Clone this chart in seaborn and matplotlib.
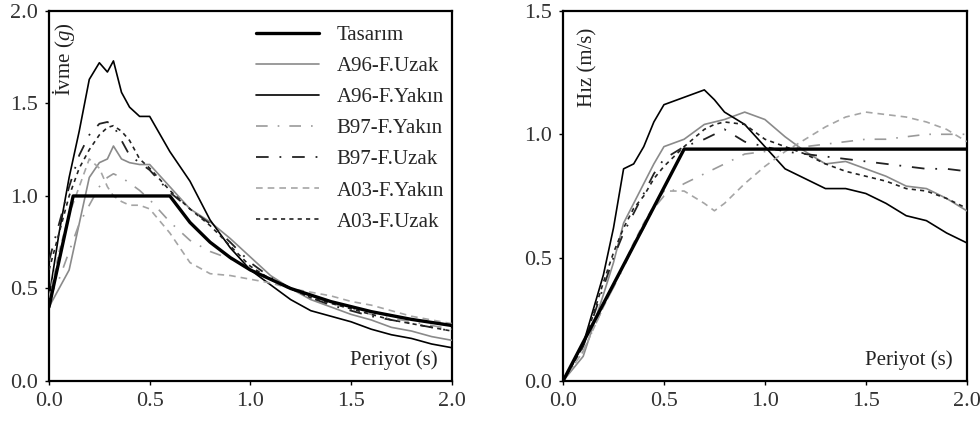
import matplotlib
matplotlib.use("Agg")
import matplotlib.pyplot as plt
import seaborn as sns
import pandas as pd

# ---------------- data ----------------
labels = ["Tasarım", "A96-F.Uzak", "A96-F.Yakın", "B97-F.Yakın",
          "B97-F.Uzak", "A03-F.Yakın", "A03-F.Uzak"]

# Acceleration spectra (left)
T_des_a = [0.0, 0.12, 0.6, 0.7, 0.8, 0.9, 1.0, 1.2, 1.4, 1.6, 1.8, 2.0]
A_des = [0.40, 1.0, 1.0, 0.857, 0.75, 0.667, 0.60, 0.50, 0.429, 0.375, 0.333, 0.30]

T_a = [0.0, 0.05, 0.1, 0.15, 0.2, 0.25, 0.29, 0.32, 0.36, 0.4, 0.45, 0.5, 0.6,
       0.7, 0.8, 0.9, 1.0, 1.1, 1.2, 1.3, 1.4, 1.5, 1.6, 1.7, 1.8, 1.9, 2.0]
A_A96_uzak = [0.40, 0.50, 0.60, 0.85, 1.10, 1.18, 1.20, 1.27, 1.20, 1.18, 1.17, 1.17, 1.05,
              0.93, 0.86, 0.77, 0.67, 0.57, 0.50, 0.44, 0.40, 0.36, 0.33, 0.29, 0.27, 0.24, 0.22]
A_A96_yakin = [0.45, 0.80, 1.10, 1.35, 1.63, 1.72, 1.67, 1.73, 1.56, 1.48, 1.43, 1.43, 1.24,
               1.08, 0.87, 0.72, 0.60, 0.52, 0.44, 0.38, 0.35, 0.32, 0.28, 0.25, 0.23, 0.20, 0.18]
A_B97_yakin = [0.45, 0.55, 0.70, 0.85, 0.95, 1.05, 1.10, 1.12, 1.10, 1.07, 1.03, 0.98, 0.86,
               0.76, 0.70, 0.66, 0.60, 0.55, 0.50, 0.46, 0.42, 0.39, 0.36, 0.34, 0.32, 0.30, 0.28]
A_B97_uzak = [0.65, 0.85, 1.05, 1.22, 1.33, 1.39, 1.40, 1.38, 1.30, 1.22, 1.18, 1.14, 1.02,
              0.93, 0.85, 0.75, 0.64, 0.56, 0.50, 0.45, 0.41, 0.38, 0.35, 0.33, 0.31, 0.29, 0.27]
A_A03_yakin = [0.45, 0.70, 0.90, 1.05, 1.20, 1.15, 1.05, 1.00, 0.97, 0.95, 0.95, 0.93, 0.80,
               0.64, 0.58, 0.57, 0.55, 0.53, 0.50, 0.48, 0.46, 0.43, 0.41, 0.38, 0.35, 0.33, 0.31]
A_A03_uzak = [0.60, 0.80, 1.00, 1.15, 1.25, 1.33, 1.37, 1.38, 1.35, 1.30, 1.20, 1.15, 1.03,
              0.93, 0.84, 0.73, 0.62, 0.55, 0.50, 0.45, 0.42, 0.39, 0.36, 0.33, 0.31, 0.29, 0.27]

# Velocity spectra (right)
T_des_v = [0.0, 0.6, 2.0]
V_des = [0.0, 0.94, 0.94]

T_v = [0.0, 0.1, 0.2, 0.25, 0.3, 0.35, 0.4, 0.45, 0.5, 0.6, 0.7, 0.75, 0.8,
       0.9, 1.0, 1.1, 1.2, 1.3, 1.4, 1.5, 1.6, 1.7, 1.8, 1.9, 2.0]
V_A96_yakin = [0.0, 0.15, 0.43, 0.62, 0.86, 0.88, 0.95, 1.05, 1.12, 1.15, 1.18, 1.14, 1.09,
               1.04, 0.95, 0.86, 0.82, 0.78, 0.78, 0.76, 0.72, 0.67, 0.65, 0.60, 0.56]
V_A96_uzak = [0.0, 0.10, 0.35, 0.48, 0.64, 0.72, 0.80, 0.88, 0.95, 0.98, 1.04, 1.05, 1.06,
              1.09, 1.06, 0.99, 0.93, 0.88, 0.89, 0.86, 0.83, 0.79, 0.78, 0.74, 0.69]
V_B97_yakin = [0.0, 0.12, 0.30, 0.38, 0.46, 0.55, 0.62, 0.70, 0.75, 0.80, 0.84, 0.86, 0.88,
               0.92, 0.93, 0.94, 0.95, 0.96, 0.97, 0.98, 0.98, 0.99, 1.00, 1.00, 1.00]
V_B97_uzak = [0.0, 0.14, 0.38, 0.50, 0.60, 0.68, 0.76, 0.84, 0.90, 0.95, 0.98, 1.00, 1.02,
              0.97, 0.95, 0.93, 0.92, 0.91, 0.90, 0.89, 0.88, 0.87, 0.86, 0.86, 0.85]
V_A03_yakin = [0.0, 0.12, 0.30, 0.38, 0.47, 0.56, 0.64, 0.71, 0.77, 0.77, 0.72, 0.69, 0.72,
               0.80, 0.87, 0.93, 0.98, 1.03, 1.07, 1.09, 1.08, 1.07, 1.05, 1.02, 0.97]
V_A03_uzak = [0.0, 0.14, 0.40, 0.52, 0.62, 0.70, 0.75, 0.82, 0.87, 0.95, 1.02, 1.04, 1.05,
              1.04, 0.98, 0.95, 0.92, 0.88, 0.85, 0.83, 0.81, 0.78, 0.77, 0.74, 0.70]

xticks = [0.0, 0.5, 1.0, 1.5, 2.0]
yticks_a = [0.0, 0.5, 1.0, 1.5, 2.0]
yticks_v = [0.0, 0.5, 1.0, 1.5]

# ---------------- style ----------------
sns.set_theme(style="white")
plt.rcParams["font.family"] = ["Liberation Serif", "DejaVu Serif"]
plt.rcParams["mathtext.fontset"] = "custom"
plt.rcParams["mathtext.it"] = "Liberation Serif:italic"
plt.rcParams["mathtext.rm"] = "Liberation Serif"

FS = 15
TFS = 16
styles = {
    "Tasarım":     dict(color="black", lw=2.4, ls="-"),
    "A96-F.Uzak":  dict(color="#8a8a8a", lw=1.2, ls="-"),
    "A96-F.Yakın": dict(color="black", lw=1.2, ls="-"),
    "B97-F.Yakın": dict(color="#9a9a9a", lw=1.2, ls=(0, (7, 6, 1, 6))),
    "B97-F.Uzak":  dict(color="#222222", lw=1.3, ls=(0, (7, 6, 1, 6))),
    "A03-F.Yakın": dict(color="#a5a5a5", lw=1.2, ls=(0, (4, 3))),
    "A03-F.Uzak":  dict(color="#222222", lw=1.2, ls=(0, (2.5, 2.5))),
}

fig = plt.figure(figsize=(9.8, 4.21), dpi=100)
ax1 = fig.add_axes([0.050, 0.095, 0.411, 0.879])
ax2 = fig.add_axes([0.5745, 0.095, 0.412, 0.879])

left_series = [(T_des_a, A_des), (T_a, A_A96_uzak), (T_a, A_A96_yakin), (T_a, A_B97_yakin),
               (T_a, A_B97_uzak), (T_a, A_A03_yakin), (T_a, A_A03_uzak)]
right_series = [(T_des_v, V_des), (T_v, V_A96_uzak), (T_v, V_A96_yakin), (T_v, V_B97_yakin),
                (T_v, V_B97_uzak), (T_v, V_A03_yakin), (T_v, V_A03_uzak)]

for ax, series in ((ax1, left_series), (ax2, right_series)):
    for lab, (xs, ys) in zip(labels, series):
        st = styles[lab]
        df = pd.DataFrame({"T": xs, "v": ys})
        sns.lineplot(data=df, x="T", y="v", ax=ax, color=st["color"], lw=st["lw"],
                     linestyle=st["ls"], label=lab, zorder=5 if lab == "Tasarım" else 3,
                     legend=False)

for ax, yt, ylim in ((ax1, yticks_a, 2.0), (ax2, yticks_v, 1.5)):
    ax.set_xlim(0, 2.0)
    ax.set_ylim(0, ylim)
    ax.set_xticks(xticks)
    ax.set_yticks(yt)
    ax.set_xticklabels([f"{v:.1f}" for v in xticks])
    ax.set_yticklabels([f"{v:.1f}" for v in yt])
    ax.set_xlabel("")
    ax.set_ylabel("")
    ax.tick_params(axis="both", direction="out", length=3, width=1, labelsize=TFS,
                   colors="black", labelcolor="#333333", pad=5, bottom=True, left=True)
    for sp in ax.spines.values():
        sp.set_color("black")
        sp.set_linewidth(1.6)
    ax.text(0.965, 0.03, "Periyot (s)", transform=ax.transAxes, ha="right", va="bottom",
            fontsize=FS, color="#222222")

ax1.text(0.037, 0.968, "İvme ($\\mathit{g}$)", transform=ax1.transAxes, rotation=90,
         ha="center", va="top", fontsize=FS, color="#222222")
ax2.text(0.062, 0.955, "Hız (m/s)", transform=ax2.transAxes, rotation=90,
         ha="center", va="top", fontsize=FS, color="#222222")

handles, labs = ax1.get_legend_handles_labels()
ax1.legend(handles, labs, loc="upper left", bbox_to_anchor=(0.515, 0.96), frameon=False,
           fontsize=FS, handlelength=3.0, handletextpad=0.85, labelspacing=0.55,
           borderaxespad=0, borderpad=0)

fig.savefig("out.png", dpi=100)
